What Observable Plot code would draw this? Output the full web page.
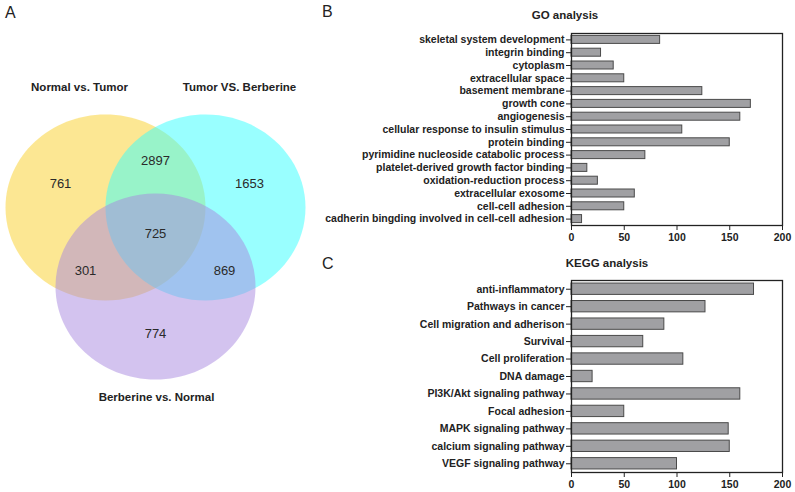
<!DOCTYPE html>
<html><head><meta charset="utf-8">
<script src="https://cdn.jsdelivr.net/npm/d3@7"></script>
<script src="https://cdn.jsdelivr.net/npm/@observablehq/plot@0.6"></script>
<style>
body{margin:0;background:#fff;}
#root{position:relative;width:795px;height:492px;overflow:hidden;font-family:"Liberation Sans",Arial,Helvetica,sans-serif;color:#222}
.abs{position:absolute;white-space:nowrap}
.letter{font-size:16px;transform:translateY(-50%)}
.title{font-size:11.5px;font-weight:bold;transform:translate(-50%,-50%)}
svg{overflow:visible}
</style></head><body><div id="root"></div>
<script>
// ---- data ----
const vennSetNames = ["Normal vs. Tumor", "Tumor VS. Berberine", "Berberine vs. Normal"];
const vennSetColors = ["#F9CF27", "#33FFFF", "#A787DF"];
const vennRegions = ["NT only", "NT∩TB", "TB only", "all", "NT∩BN", "TB∩BN", "BN only"];
const vennCounts = [761, 2897, 1653, 725, 301, 869, 774];

const goTerms = ["skeletal system development", "integrin binding", "cytoplasm", "extracellular space",
  "basement membrane", "growth cone", "angiogenesis", "cellular response to insulin stimulus",
  "protein binding", "pyrimidine nucleoside catabolic process", "platelet-derived growth factor binding",
  "oxidation-reduction process", "extracellular exosome", "cell-cell adhesion",
  "cadherin bingding involved in cell-cell adhesion"];
const goCounts = [84, 28, 40, 50, 124, 170, 160, 105, 150, 70, 15, 25, 60, 50, 10];

const keggTerms = ["anti-inflammatory", "Pathways in cancer", "Cell migration and adherison", "Survival",
  "Cell proliferation", "DNA damage", "PI3K/Akt signaling pathway", "Focal adhesion",
  "MAPK signaling pathway", "calcium signaling pathway", "VEGF signaling pathway"];
const keggCounts = [173, 127, 88, 68, 106, 20, 160, 50, 149, 150, 100];

const axisTicks = [0, 50, 100, 150, 200];

// ---- layout (Venn geometry in circle-radius units) ----
const circleCenters = [[-0.5, 0], [0.5, 0], [0, -0.85]];
const regionPos = [[-0.95, 0.25], [0, 0.505], [0.94, 0.25], [0, -0.28], [-0.70, -0.68], [0.69, -0.68], [0, -1.355]];
const setLabelPos = [[-0.76, 1.29], [0.84, 1.29], [0.01, -2.04]];
const FONT = '"Liberation Sans", Arial, Helvetica, sans-serif';
const root = document.getElementById("root");

function addDiv(cls, text, left, top) {
  const d = document.createElement("div");
  d.className = "abs " + cls;
  d.textContent = text;
  d.style.left = left + "px";
  d.style.top = top + "px";
  root.appendChild(d);
}

// ellipse symbol (slightly flattened circle as in the reference)
const ellipseSymbol = {
  draw(ctx, size) {
    const r = Math.sqrt(size / Math.PI), rx = r, ry = r * 0.93, k = 0.5522847;
    ctx.moveTo(rx, 0);
    ctx.bezierCurveTo(rx, k * ry, k * rx, ry, 0, ry);
    ctx.bezierCurveTo(-k * rx, ry, -rx, k * ry, -rx, 0);
    ctx.bezierCurveTo(-rx, -k * ry, -k * rx, -ry, 0, -ry);
    ctx.bezierCurveTo(k * rx, -ry, rx, -k * ry, rx, 0);
    ctx.closePath();
  }
};

const circles = vennSetNames.map((name, i) => ({name, color: vennSetColors[i], x: circleCenters[i][0], y: circleCenters[i][1]}));
const regions = vennRegions.map((name, i) => ({name, count: vennCounts[i], x: regionPos[i][0], y: regionPos[i][1]}));
const setLabels = vennSetNames.map((name, i) => ({name, x: setLabelPos[i][0], y: setLabelPos[i][1]}));

const venn = Plot.plot({
  width: 320, height: 492, margin: 0,
  x: {domain: [-1.55, 1.65], range: [0, 320], axis: null},
  y: {domain: [-285 / 93, 207 / 93], range: [492, 0], axis: null},
  style: {fontFamily: FONT, background: "transparent"},
  marks: [
    Plot.dot(circles, {x: "x", y: "y", r: 100, symbol: ellipseSymbol, fill: "color", fillOpacity: 0.5, stroke: "none"}),
    Plot.text(regions, {x: "x", y: "y", text: d => String(d.count), fontSize: 13, fill: "#2a2a2a"}),
    Plot.text(setLabels, {x: "x", y: "y", text: "name", fontSize: 11.5, fontWeight: "bold", fill: "#222"})
  ]
});
venn.style.position = "absolute"; venn.style.left = "0px"; venn.style.top = "0px";
root.appendChild(venn);

function barChart(terms, counts, paddingInner) {
  const data = terms.map((term, i) => ({term, value: counts[i]}));
  return Plot.plot({
    width: 475, height: 220,
    marginLeft: 251, marginRight: 13, marginTop: 8, marginBottom: 20,
    style: {fontFamily: FONT, fontSize: "10.5px", fontWeight: "bold", color: "#222", background: "transparent"},
    x: {domain: [0, 200], ticks: axisTicks, label: null},
    y: {domain: terms, paddingInner, paddingOuter: paddingInner / 2, round: false, label: null},
    marks: [
      Plot.barX(data, {x: "value", y: "term", fill: "#A0A0A3", stroke: "#4a4a4a", strokeWidth: 1}),
      Plot.axisY({tickSize: 5, tickPadding: 2, fontSize: 10.5, fontWeight: "bold"}),
      Plot.axisX({ticks: axisTicks, tickSize: 5, tickPadding: 3, fontSize: 10.5, fontWeight: "bold"}),
      Plot.frame({stroke: "#222", strokeWidth: 1.3})
    ]
  });
}

const go = barChart(goTerms, goCounts, 0.375);
go.style.position = "absolute"; go.style.left = "320px"; go.style.top = "25px";
root.appendChild(go);

const kegg = barChart(keggTerms, keggCounts, 0.35);
kegg.style.position = "absolute"; kegg.style.left = "320px"; kegg.style.top = "272px";
root.appendChild(kegg);

addDiv("letter", "A", 5, 13);
addDiv("letter", "B", 322, 12);
addDiv("letter", "C", 322, 264);
addDiv("title", "GO analysis", 565, 15);
addDiv("title", "KEGG analysis", 607, 263);
</script></body></html>
